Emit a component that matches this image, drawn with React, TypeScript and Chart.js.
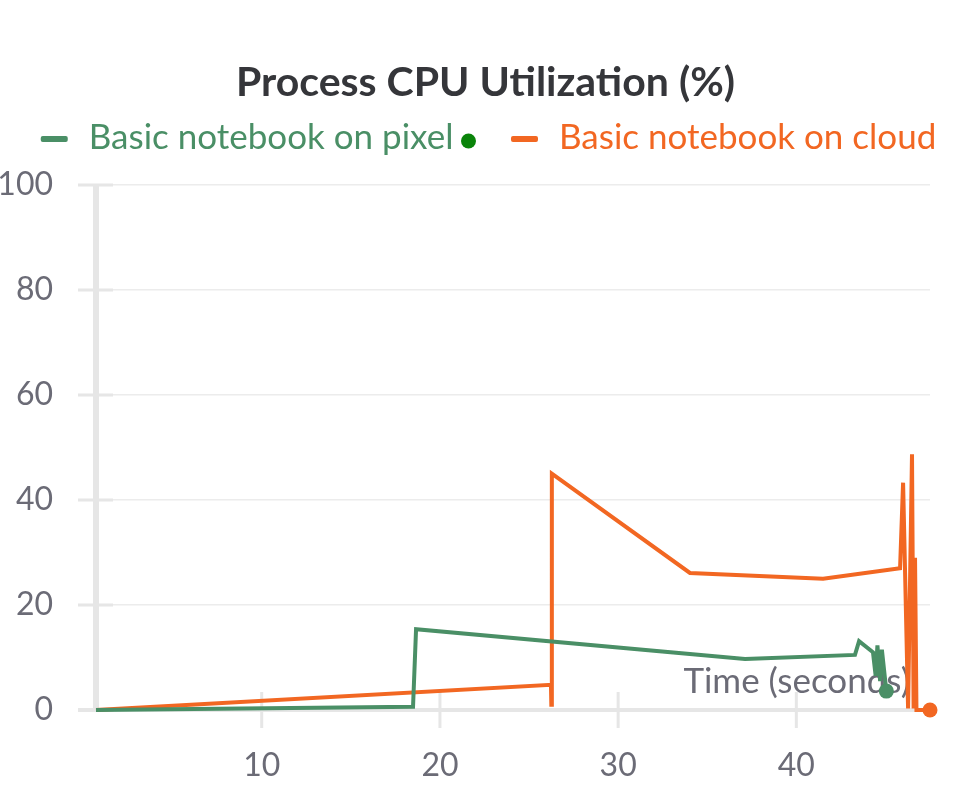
import React, { useEffect, useRef } from "react";
import { Chart, registerables } from "chart.js";

Chart.register(...registerables);

const chartTitle = "Process CPU Utilization (%)";
const xAxisTitle = "Time (seconds)";
const seriesNames = ["Basic notebook on pixel", "Basic notebook on cloud"];
const seriesColors = ["#4a8f66", "#f26722"];
const legendDotColor = "#0a840a";

const pixelTimes = [0.7, 18.49, 18.66, 37.12, 43.29, 43.52, 44.3, 44.45, 44.55, 44.7, 44.8, 45.05];
const pixelValues = [0, 0.6, 15.4, 9.7, 10.5, 13.1, 11.0, 6.5, 12.3, 5.5, 11.5, 3.6];

const cloudTimes = [0.7, 26.23, 26.25, 26.28, 34.03, 41.5, 45.82, 45.99, 46.27, 46.49, 46.58, 46.66, 46.74, 47.5];
const cloudValues = [0, 4.8, 1.0, 45.0, 26.1, 25.0, 27.0, 43.3, 0.3, 48.7, 0.3, 29, 0, 0];

const xTicks = [10, 20, 30, 40];
const yTicks = [0, 20, 40, 60, 80, 100];

const FONT = "Lato, 'Noto Sans', sans-serif";
const TICK_COLOR = "#6b6b76";
const AXIS_COLOR = "#e6e6e6";
const GRID_COLOR = "#ececec";

const decorPlugin = {
  id: "decor",
  beforeDatasetsDraw(chart: any) {
    const { ctx, chartArea } = chart;
    const { left, right, top, bottom } = chartArea;
    const xs = chart.scales.x;
    const ys = chart.scales.y;
    ctx.save();
    ctx.strokeStyle = AXIS_COLOR;
    ctx.lineCap = "butt";
    // y axis line
    ctx.lineWidth = 6;
    ctx.beginPath();
    ctx.moveTo(left, top);
    ctx.lineTo(left, bottom);
    ctx.stroke();
    // x axis line
    ctx.lineWidth = 4;
    ctx.beginPath();
    ctx.moveTo(left - 18, bottom);
    ctx.lineTo(right, bottom);
    ctx.stroke();
    // y tick crosses
    ctx.lineWidth = 3;
    yTicks.forEach((v) => {
      const y = ys.getPixelForValue(v);
      ctx.beginPath();
      ctx.moveTo(left - 18, y);
      ctx.lineTo(left + 17, y);
      ctx.stroke();
    });
    // x tick crosses
    xTicks.forEach((v) => {
      const x = xs.getPixelForValue(v);
      ctx.beginPath();
      ctx.moveTo(x, bottom - 18);
      ctx.lineTo(x, bottom + 18);
      ctx.stroke();
    });
    // axis title inside plot
    ctx.fillStyle = TICK_COLOR;
    ctx.font = `35px ${FONT}`;
    ctx.textAlign = "right";
    ctx.textBaseline = "middle";
    ctx.fillText(xAxisTitle, right - 20, bottom - 28);
    ctx.restore();
  },
  afterDraw(chart: any) {
    // custom legend row
    const { ctx } = chart;
    const datasets = chart.data.datasets;
    ctx.save();
    ctx.font = `35px ${FONT}`;
    ctx.textBaseline = "middle";
    ctx.textAlign = "left";
    const dashW = 27;
    const dashH = 6;
    const gapText = 21;
    const dotGap = 15;
    const dotR = 7.5;
    const itemGap = 35;
    const widths = datasets.map((ds: any, i: number) => {
      const tw = ctx.measureText(ds.label).width;
      let w = dashW + gapText + tw;
      if (i === 0) w += dotGap + dotR;
      return { tw, w };
    });
    const total =
      widths.reduce((a: number, b: any) => a + b.w, 0) + itemGap * (datasets.length - 1);
    let x = chart.width / 2 + 3 - total / 2;
    const y = 138;
    datasets.forEach((ds: any, i: number) => {
      const color = seriesColors[i];
      ctx.fillStyle = color;
      ctx.beginPath();
      (ctx as any).roundRect
        ? (ctx as any).roundRect(x, y - dashH / 2 + 1, dashW, dashH, 2)
        : ctx.rect(x, y - dashH / 2 + 1, dashW, dashH);
      ctx.fill();
      ctx.fillText(ds.label, x + dashW + gapText, y);
      if (i === 0) {
        ctx.fillStyle = legendDotColor;
        ctx.beginPath();
        ctx.arc(x + dashW + gapText + widths[i].tw + dotGap, y + 3, dotR, 0, Math.PI * 2);
        ctx.fill();
      }
      x += widths[i].w + itemGap;
    });
    ctx.restore();
  },
};

export default function App() {
  const ref = useRef<HTMLCanvasElement | null>(null);

  useEffect(() => {
    document.body.style.margin = "0";
    if (!ref.current) return;
    const lastPointRadius = (c: any) =>
      c.dataIndex === c.dataset.data.length - 1 ? 7.5 : 0;
    const chart = new Chart(ref.current, {
      type: "line",
      data: {
        datasets: [
          {
            label: seriesNames[0],
            data: pixelTimes.map((t, i) => ({ x: t, y: pixelValues[i] })),
            borderColor: seriesColors[0],
            backgroundColor: seriesColors[0],
            borderWidth: 4,
            tension: 0,
            pointRadius: lastPointRadius,
            pointHoverRadius: 0,
            pointBorderWidth: 0,
            clip: false as any,
          },
          {
            label: seriesNames[1],
            data: cloudTimes.map((t, i) => ({ x: t, y: cloudValues[i] })),
            borderColor: seriesColors[1],
            backgroundColor: seriesColors[1],
            borderWidth: 4,
            tension: 0,
            pointRadius: lastPointRadius,
            pointHoverRadius: 0,
            pointBorderWidth: 0,
            clip: false as any,
          },
        ],
      },
      options: {
        animation: false,
        responsive: false,
        maintainAspectRatio: false,
        events: [],
        layout: { padding: 0 },
        plugins: {
          tooltip: { enabled: false },
          legend: { display: false },
          title: {
            display: true,
            text: chartTitle,
            color: "#35363a",
            font: { family: FONT, size: 41, weight: "bold" },
            padding: { top: 58.4, bottom: 77.4 },
          },
        },
        scales: {
          x: {
            type: "linear",
            min: 0.7,
            max: 47.5,
            grid: { display: false, drawTicks: false },
            border: { display: false },
            afterBuildTicks: (s: any) => {
              s.ticks = xTicks.map((v) => ({ value: v }));
            },
            afterFit: (s: any) => {
              s.height = 75;
              s.paddingRight = 41;
              s.paddingLeft = 0;
            },
            ticks: {
              color: TICK_COLOR,
              font: { family: FONT, size: 32 },
              padding: 36.8,
              maxRotation: 0,
              callback: (v: any) => String(v),
            },
          },
          y: {
            type: "linear",
            min: 0,
            max: 100,
            grid: { color: GRID_COLOR, lineWidth: 1.5, drawTicks: false },
            border: { display: false },
            afterBuildTicks: (s: any) => {
              s.ticks = yTicks.map((v) => ({ value: v }));
            },
            afterFit: (s: any) => {
              s.width = 96;
            },
            ticks: {
              color: TICK_COLOR,
              font: { family: FONT, size: 32 },
              padding: 43,
              callback: (v: any) => String(v),
            },
          },
        },
      },
      plugins: [decorPlugin],
    } as any);
    return () => chart.destroy();
  }, []);

  return (
    <div style={{ width: 971, height: 785, position: "relative" }}>
      <canvas ref={ref} width={971} height={785} />
    </div>
  );
}
